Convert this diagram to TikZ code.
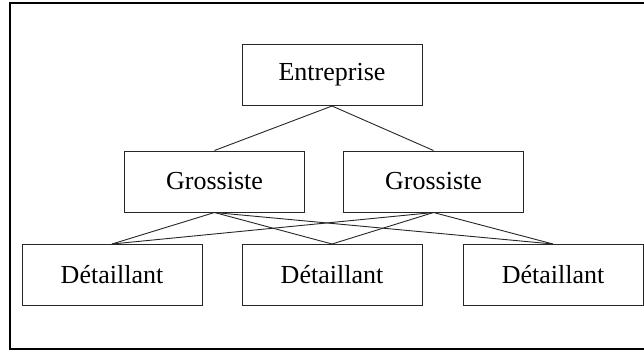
\documentclass[tikz,border=0pt]{standalone}
\usepackage{fontspec}
\setmainfont{Liberation Serif}
\begin{document}
\begin{tikzpicture}[x=1pt,y=-1pt,
  box/.style={draw=black!85,line width=1pt,minimum width=180pt,minimum height=61pt,inner sep=0pt,font=\fontsize{26}{30}\selectfont},
  link/.style={draw=black!85,line width=0.9pt},
  frame/.style={draw=black,line width=2pt}]
\useasboundingbox (0,0) rectangle (644,351);
\coordinate (f1) at (646,3);
\coordinate (f2) at (10,3);
\coordinate (f3) at (10,349);
\coordinate (f4) at (646,349);
\draw[frame] (f1) -- (f2) -- (f3) -- (f4);
\node[box] (E) at (332,75) {Entreprise};
\node[box] (G1) at (214.5,181.5) {Grossiste};
\node[box] (G2) at (433.5,181.5) {Grossiste};
\node[box] (D1) at (112,275) {Détaillant};
\node[box] (D2) at (332,275) {Détaillant};
\node[box] (D3) at (553,275) {Détaillant};
\draw[link] (E.south) -- (G1.north);
\draw[link] (E.south) -- (G2.north);
\foreach \g in {G1,G2}{
  \foreach \d in {D1,D2,D3}{
    \draw[link] (\g.south) -- (\d.north);
  }
}
\end{tikzpicture}
\end{document}
